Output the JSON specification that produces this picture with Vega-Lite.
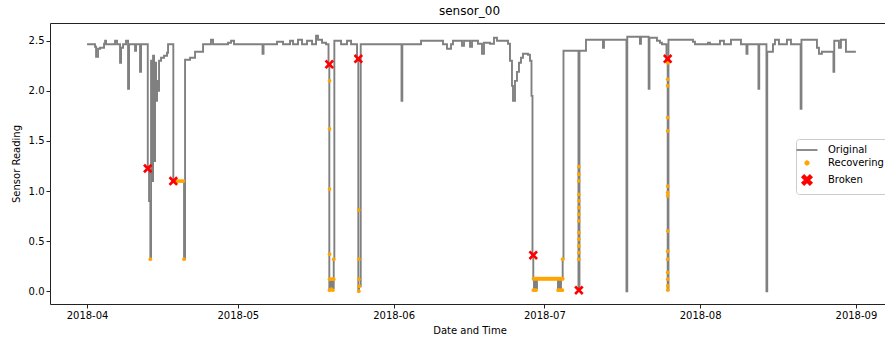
{
  "$schema": "https://vega.github.io/schema/vega-lite/v6.json",
  "width": 839,
  "height": 281,
  "autosize": {"type": "none"},
  "padding": {"left": 50, "top": 23, "right": 0, "bottom": 36},
  "title": {"text": "sensor_00", "fontSize": 12, "fontWeight": "normal", "font": "DejaVu Sans", "color": "#000", "offset": 5},
  "config": {
    "font": "DejaVu Sans",
    "view": {"stroke": "#222", "strokeWidth": 1},
    "axis": {"domain": false, "grid": false, "tickColor": "#222", "tickSize": 4, "labelFont": "DejaVu Sans", "labelFontSize": 10, "labelColor": "#000", "titleFont": "DejaVu Sans", "titleFontSize": 10, "titleFontWeight": "normal", "titleColor": "#000", "labelPadding": 2}
  },
  "datasets": {
    "line": [
      {"time": "2018-04-01T00:00", "value": 2.465},
      {"time": "2018-04-02T14:00", "value": 2.44},
      {"time": "2018-04-02T19:00", "value": 2.34},
      {"time": "2018-04-03T04:30", "value": 2.42},
      {"time": "2018-04-03T14:00", "value": 2.43},
      {"time": "2018-04-04T09:00", "value": 2.47},
      {"time": "2018-04-04T14:00", "value": 2.50},
      {"time": "2018-04-04T18:40", "value": 2.465},
      {"time": "2018-04-06T13:40", "value": 2.50},
      {"time": "2018-04-06T23:15", "value": 2.465},
      {"time": "2018-04-07T13:30", "value": 2.28},
      {"time": "2018-04-07T18:20", "value": 2.43},
      {"time": "2018-04-08T04:00", "value": 2.465},
      {"time": "2018-04-08T18:00", "value": 2.50},
      {"time": "2018-04-09T03:45", "value": 2.02},
      {"time": "2018-04-09T08:30", "value": 2.465},
      {"time": "2018-04-10T13:10", "value": 2.40},
      {"time": "2018-04-10T18:00", "value": 2.465},
      {"time": "2018-04-11T13:00", "value": 2.19},
      {"time": "2018-04-11T17:50", "value": 2.465},
      {"time": "2018-04-13T02:00", "value": 1.225},
      {"time": "2018-04-13T08:00", "value": 0.9},
      {"time": "2018-04-13T14:15", "value": 0.32},
      {"time": "2018-04-13T17:40", "value": 2.30},
      {"time": "2018-04-13T22:20", "value": 1.10},
      {"time": "2018-04-14T03:10", "value": 2.35},
      {"time": "2018-04-14T08:00", "value": 1.30},
      {"time": "2018-04-14T12:45", "value": 2.28},
      {"time": "2018-04-14T17:30", "value": 1.90},
      {"time": "2018-04-14T22:15", "value": 2.10},
      {"time": "2018-04-15T03:00", "value": 2.00},
      {"time": "2018-04-15T07:50", "value": 2.30},
      {"time": "2018-04-15T17:20", "value": 2.33},
      {"time": "2018-04-16T07:40", "value": 2.35},
      {"time": "2018-04-16T22:00", "value": 2.38},
      {"time": "2018-04-17T02:45", "value": 2.465},
      {"time": "2018-04-18T04:00", "value": 1.10},
      {"time": "2018-04-20T07:10", "value": 0.32},
      {"time": "2018-04-20T12:00", "value": 2.31},
      {"time": "2018-04-21T12:00", "value": 2.33},
      {"time": "2018-04-22T11:45", "value": 2.39},
      {"time": "2018-04-24T02:00", "value": 2.465},
      {"time": "2018-04-25T16:00", "value": 2.51},
      {"time": "2018-04-26T01:40", "value": 2.465},
      {"time": "2018-04-29T01:20", "value": 2.48},
      {"time": "2018-04-29T15:40", "value": 2.50},
      {"time": "2018-04-30T06:00", "value": 2.465},
      {"time": "2018-05-05T22:00", "value": 2.37},
      {"time": "2018-05-06T02:50", "value": 2.465},
      {"time": "2018-05-08T19:15", "value": 2.49},
      {"time": "2018-05-09T23:55", "value": 2.465},
      {"time": "2018-05-11T09:20", "value": 2.50},
      {"time": "2018-05-11T23:40", "value": 2.465},
      {"time": "2018-05-12T23:30", "value": 2.51},
      {"time": "2018-05-13T18:40", "value": 2.465},
      {"time": "2018-05-14T18:30", "value": 2.50},
      {"time": "2018-05-15T18:25", "value": 2.465},
      {"time": "2018-05-16T13:30", "value": 2.55},
      {"time": "2018-05-16T23:00", "value": 2.51},
      {"time": "2018-05-17T18:10", "value": 2.48},
      {"time": "2018-05-18T13:15", "value": 2.465},
      {"time": "2018-05-19T01:10", "value": 2.265},
      {"time": "2018-05-19T05:00", "value": 0.01},
      {"time": "2018-05-19T08:20", "value": 0.12},
      {"time": "2018-05-19T13:10", "value": 0.03},
      {"time": "2018-05-19T18:00", "value": 0.12},
      {"time": "2018-05-19T22:40", "value": 0.03},
      {"time": "2018-05-20T02:00", "value": 0.32},
      {"time": "2018-05-20T05:00", "value": 2.50},
      {"time": "2018-05-21T13:00", "value": 2.465},
      {"time": "2018-05-22T17:30", "value": 2.50},
      {"time": "2018-05-23T12:40", "value": 2.465},
      {"time": "2018-05-24T17:20", "value": 2.32},
      {"time": "2018-05-24T23:30", "value": 0.0},
      {"time": "2018-05-25T02:50", "value": 0.05},
      {"time": "2018-05-25T11:00", "value": 2.465},
      {"time": "2018-06-02T13:50", "value": 1.90},
      {"time": "2018-06-02T17:40", "value": 2.465},
      {"time": "2018-06-06T11:00", "value": 2.50},
      {"time": "2018-06-10T20:00", "value": 2.465},
      {"time": "2018-06-11T15:00", "value": 2.42},
      {"time": "2018-06-12T10:10", "value": 2.465},
      {"time": "2018-06-12T19:40", "value": 2.50},
      {"time": "2018-06-14T14:40", "value": 2.45},
      {"time": "2018-06-15T00:15", "value": 2.50},
      {"time": "2018-06-16T05:00", "value": 2.44},
      {"time": "2018-06-16T14:30", "value": 2.50},
      {"time": "2018-06-17T19:00", "value": 2.47},
      {"time": "2018-06-18T14:10", "value": 2.37},
      {"time": "2018-06-18T23:45", "value": 2.48},
      {"time": "2018-06-20T04:20", "value": 2.47},
      {"time": "2018-06-20T23:30", "value": 2.53},
      {"time": "2018-06-21T13:50", "value": 2.50},
      {"time": "2018-06-23T18:20", "value": 2.47},
      {"time": "2018-06-24T03:50", "value": 2.30},
      {"time": "2018-06-24T13:25", "value": 2.05},
      {"time": "2018-06-24T18:15", "value": 1.90},
      {"time": "2018-06-25T03:45", "value": 2.10},
      {"time": "2018-06-25T13:20", "value": 2.19},
      {"time": "2018-06-25T22:50", "value": 2.28},
      {"time": "2018-06-26T08:25", "value": 2.33},
      {"time": "2018-06-26T18:00", "value": 2.37},
      {"time": "2018-06-27T17:50", "value": 2.36},
      {"time": "2018-06-28T03:25", "value": 2.30},
      {"time": "2018-06-28T10:35", "value": 1.95},
      {"time": "2018-06-28T15:20", "value": 0.36},
      {"time": "2018-06-28T19:10", "value": 0.12},
      {"time": "2018-06-28T22:30", "value": 0.02},
      {"time": "2018-06-29T03:15", "value": 0.12},
      {"time": "2018-06-29T08:00", "value": 0.03},
      {"time": "2018-06-29T12:50", "value": 0.125},
      {"time": "2018-07-03T17:00", "value": 0.03},
      {"time": "2018-07-03T22:00", "value": 0.125},
      {"time": "2018-07-04T02:40", "value": 0.02},
      {"time": "2018-07-04T07:30", "value": 0.12},
      {"time": "2018-07-04T15:30", "value": 0.32},
      {"time": "2018-07-04T19:20", "value": 2.40},
      {"time": "2018-07-07T19:00", "value": 0.01},
      {"time": "2018-07-07T23:45", "value": 2.40},
      {"time": "2018-07-09T06:50", "value": 2.51},
      {"time": "2018-07-12T16:00", "value": 2.43},
      {"time": "2018-07-12T20:45", "value": 2.51},
      {"time": "2018-07-17T08:10", "value": 0.0},
      {"time": "2018-07-17T12:00", "value": 2.54},
      {"time": "2018-07-20T00:40", "value": 2.47},
      {"time": "2018-07-20T05:30", "value": 2.54},
      {"time": "2018-07-21T18:10", "value": 2.02},
      {"time": "2018-07-21T22:00", "value": 2.53},
      {"time": "2018-07-23T09:50", "value": 2.50},
      {"time": "2018-07-24T00:10", "value": 2.48},
      {"time": "2018-07-24T09:45", "value": 2.465},
      {"time": "2018-07-25T07:10", "value": 2.32},
      {"time": "2018-07-25T13:00", "value": 0.01},
      {"time": "2018-07-25T16:45", "value": 2.51},
      {"time": "2018-07-30T13:45", "value": 2.49},
      {"time": "2018-07-30T23:20", "value": 2.465},
      {"time": "2018-08-02T13:20", "value": 2.48},
      {"time": "2018-08-02T23:00", "value": 2.465},
      {"time": "2018-08-04T22:40", "value": 2.50},
      {"time": "2018-08-05T17:45", "value": 2.465},
      {"time": "2018-08-07T03:15", "value": 2.51},
      {"time": "2018-08-09T03:00", "value": 2.465},
      {"time": "2018-08-10T05:15", "value": 2.37},
      {"time": "2018-08-10T10:00", "value": 2.465},
      {"time": "2018-08-12T14:30", "value": 2.02},
      {"time": "2018-08-12T18:20", "value": 2.465},
      {"time": "2018-08-14T04:45", "value": 0.0},
      {"time": "2018-08-14T08:30", "value": 2.39},
      {"time": "2018-08-15T11:45", "value": 2.465},
      {"time": "2018-08-15T21:20", "value": 2.51},
      {"time": "2018-08-16T16:25", "value": 2.465},
      {"time": "2018-08-18T06:35", "value": 2.51},
      {"time": "2018-08-19T01:45", "value": 2.465},
      {"time": "2018-08-21T00:00", "value": 1.82},
      {"time": "2018-08-21T03:50", "value": 2.51},
      {"time": "2018-08-24T05:50", "value": 2.43},
      {"time": "2018-08-24T15:25", "value": 2.37},
      {"time": "2018-08-25T05:45", "value": 2.39},
      {"time": "2018-08-27T12:40", "value": 2.19},
      {"time": "2018-08-27T16:30", "value": 2.50},
      {"time": "2018-08-28T15:00", "value": 2.43},
      {"time": "2018-08-29T00:30", "value": 2.51},
      {"time": "2018-08-30T00:20", "value": 2.39},
      {"time": "2018-08-31T19:20", "value": 2.40}
    ],
    "recovering": [
      {"time": "2018-04-13T14:15", "value": 0.32},
      {"time": "2018-04-18T05:00", "value": 1.10},
      {"time": "2018-04-18T12:00", "value": 1.10},
      {"time": "2018-04-18T20:00", "value": 1.10},
      {"time": "2018-04-19T04:00", "value": 1.10},
      {"time": "2018-04-19T12:00", "value": 1.10},
      {"time": "2018-04-19T20:00", "value": 1.10},
      {"time": "2018-04-20T04:00", "value": 1.10},
      {"time": "2018-04-20T07:10", "value": 0.32},
      {"time": "2018-05-19T06:00", "value": 2.10},
      {"time": "2018-05-19T06:00", "value": 1.62},
      {"time": "2018-05-19T06:00", "value": 1.02},
      {"time": "2018-05-19T06:00", "value": 0.37},
      {"time": "2018-05-19T06:00", "value": 0.12},
      {"time": "2018-05-19T06:00", "value": 0.01},
      {"time": "2018-05-19T10:00", "value": 0.12},
      {"time": "2018-05-19T14:00", "value": 0.02},
      {"time": "2018-05-19T18:00", "value": 0.12},
      {"time": "2018-05-19T22:00", "value": 0.01},
      {"time": "2018-05-20T02:00", "value": 0.32},
      {"time": "2018-05-20T02:00", "value": 0.12},
      {"time": "2018-05-25T02:00", "value": 0.81},
      {"time": "2018-05-25T02:00", "value": 0.32},
      {"time": "2018-05-25T02:00", "value": 0.12},
      {"time": "2018-05-25T02:00", "value": 0.0},
      {"time": "2018-05-25T04:00", "value": 0.05},
      {"time": "2018-06-28T20:00", "value": 0.125},
      {"time": "2018-06-29T00:00", "value": 0.125},
      {"time": "2018-06-29T04:00", "value": 0.125},
      {"time": "2018-06-29T08:00", "value": 0.125},
      {"time": "2018-06-29T12:00", "value": 0.125},
      {"time": "2018-06-29T16:00", "value": 0.125},
      {"time": "2018-06-29T20:00", "value": 0.125},
      {"time": "2018-06-30T00:00", "value": 0.125},
      {"time": "2018-06-30T04:00", "value": 0.125},
      {"time": "2018-06-30T08:00", "value": 0.125},
      {"time": "2018-06-30T12:00", "value": 0.125},
      {"time": "2018-06-30T16:00", "value": 0.125},
      {"time": "2018-06-30T20:00", "value": 0.125},
      {"time": "2018-07-01T00:00", "value": 0.125},
      {"time": "2018-07-01T04:00", "value": 0.125},
      {"time": "2018-07-01T08:00", "value": 0.125},
      {"time": "2018-07-01T12:00", "value": 0.125},
      {"time": "2018-07-01T16:00", "value": 0.125},
      {"time": "2018-07-01T20:00", "value": 0.125},
      {"time": "2018-07-02T00:00", "value": 0.125},
      {"time": "2018-07-02T04:00", "value": 0.125},
      {"time": "2018-07-02T08:00", "value": 0.125},
      {"time": "2018-07-02T12:00", "value": 0.125},
      {"time": "2018-07-02T16:00", "value": 0.125},
      {"time": "2018-07-02T20:00", "value": 0.125},
      {"time": "2018-07-03T00:00", "value": 0.125},
      {"time": "2018-07-03T04:00", "value": 0.125},
      {"time": "2018-07-03T08:00", "value": 0.125},
      {"time": "2018-07-03T12:00", "value": 0.125},
      {"time": "2018-07-03T16:00", "value": 0.125},
      {"time": "2018-07-03T20:00", "value": 0.125},
      {"time": "2018-07-04T00:00", "value": 0.125},
      {"time": "2018-07-04T04:00", "value": 0.125},
      {"time": "2018-07-04T08:00", "value": 0.125},
      {"time": "2018-07-04T12:00", "value": 0.125},
      {"time": "2018-07-04T16:00", "value": 0.125},
      {"time": "2018-06-28T20:00", "value": 0.01},
      {"time": "2018-06-29T02:00", "value": 0.01},
      {"time": "2018-06-29T08:00", "value": 0.01},
      {"time": "2018-07-03T18:00", "value": 0.01},
      {"time": "2018-07-04T00:00", "value": 0.01},
      {"time": "2018-07-04T08:00", "value": 0.01},
      {"time": "2018-07-04T14:00", "value": 0.01},
      {"time": "2018-07-04T15:30", "value": 0.32},
      {"time": "2018-07-07T21:00", "value": 1.245},
      {"time": "2018-07-07T21:00", "value": 1.168},
      {"time": "2018-07-07T21:00", "value": 1.101},
      {"time": "2018-07-07T21:00", "value": 0.968},
      {"time": "2018-07-07T21:00", "value": 0.901},
      {"time": "2018-07-07T21:00", "value": 0.835},
      {"time": "2018-07-07T21:00", "value": 0.768},
      {"time": "2018-07-07T21:00", "value": 0.702},
      {"time": "2018-07-07T21:00", "value": 0.585},
      {"time": "2018-07-07T21:00", "value": 0.519},
      {"time": "2018-07-07T21:00", "value": 0.452},
      {"time": "2018-07-07T21:00", "value": 0.386},
      {"time": "2018-07-07T21:00", "value": 0.319},
      {"time": "2018-07-25T13:00", "value": 2.28},
      {"time": "2018-07-25T13:00", "value": 2.116},
      {"time": "2018-07-25T13:00", "value": 2.05},
      {"time": "2018-07-25T13:00", "value": 1.733},
      {"time": "2018-07-25T13:00", "value": 1.60},
      {"time": "2018-07-25T13:00", "value": 1.05},
      {"time": "2018-07-25T13:00", "value": 0.985},
      {"time": "2018-07-25T13:00", "value": 0.951},
      {"time": "2018-07-25T13:00", "value": 0.60},
      {"time": "2018-07-25T13:00", "value": 0.40},
      {"time": "2018-07-25T13:00", "value": 0.32},
      {"time": "2018-07-25T13:00", "value": 0.187},
      {"time": "2018-07-25T13:00", "value": 0.12},
      {"time": "2018-07-25T13:00", "value": 0.053},
      {"time": "2018-07-25T13:00", "value": 0.013}
    ],
    "broken": [
      {"time": "2018-04-13T02:00", "value": 1.225},
      {"time": "2018-04-18T04:00", "value": 1.10},
      {"time": "2018-05-19T05:00", "value": 2.265},
      {"time": "2018-05-24T23:30", "value": 2.32},
      {"time": "2018-06-28T19:00", "value": 0.36},
      {"time": "2018-07-07T21:00", "value": 0.01},
      {"time": "2018-07-25T13:00", "value": 2.32}
    ]
  },
  "layer": [
    {
      "data": {"name": "line"},
      "mark": {"type": "line", "interpolate": "step-after", "strokeWidth": 1.9, "clip": true},
      "encoding": {
        "x": {"field": "time", "type": "temporal",
          "scale": {"domain": [{"year": 2018, "month": 3, "date": 24, "hours": 15}, {"year": 2018, "month": 9, "date": 7, "hours": 14}], "nice": false},
          "axis": {"title": "Date and Time", "format": "%Y-%m", "titlePadding": 5, "labelFlush": false,
            "values": [{"year": 2018, "month": 4, "date": 1}, {"year": 2018, "month": 5, "date": 1}, {"year": 2018, "month": 6, "date": 1}, {"year": 2018, "month": 7, "date": 1}, {"year": 2018, "month": 8, "date": 1}, {"year": 2018, "month": 9, "date": 1}]}},
        "y": {"field": "value", "type": "quantitative",
          "scale": {"domain": [-0.1275, 2.6775], "nice": false, "zero": false},
          "axis": {"title": "Sensor Reading", "format": ".1f", "values": [0, 0.5, 1, 1.5, 2, 2.5], "titlePadding": 7, "labelFlush": false}},
        "color": {"datum": "Original", "type": "nominal",
          "scale": {"domain": ["Original", "Recovering", "Broken"], "range": ["#808080", "#FFA500", "#FF0000"]},
          "legend": {"title": null, "orient": "none", "legendX": 746, "legendY": 116,
            "fillColor": "white", "strokeColor": "#cccccc", "cornerRadius": 3, "padding": 5,
            "labelFontSize": 10, "labelFont": "DejaVu Sans", "labelColor": "#000", "labelOffset": 15,
            "symbolSize": 100, "rowPadding": 2,
            "encode": {"symbols": {"update": {
              "shape": {"signal": "datum.value === 'Original' ? 'M-2.1,0L2.1,0' : datum.value === 'Recovering' ? 'circle' : 'M-1,-0.6L-0.6,-1L0,-0.4L0.6,-1L1,-0.6L0.4,0L1,0.6L0.6,1L0,0.4L-0.6,1L-1,0.6L-0.4,0Z'"},
              "size": {"signal": "datum.value === 'Original' ? 100 : datum.value === 'Recovering' ? 12 : 90"},
              "fill": {"signal": "datum.value === 'Original' ? 'transparent' : datum.value === 'Recovering' ? '#FFA500' : '#FF0000'"},
              "stroke": {"signal": "datum.value === 'Original' ? '#808080' : 'transparent'"},
              "strokeWidth": {"value": 1.8},
              "opacity": {"value": 1}
            }}}}
        }
      }
    },
    {
      "data": {"name": "recovering"},
      "mark": {"type": "point", "filled": true, "size": 14, "opacity": 1, "shape": "circle"},
      "encoding": {
        "x": {"field": "time", "type": "temporal"},
        "y": {"field": "value", "type": "quantitative"},
        "color": {"datum": "Recovering", "type": "nominal"}
      }
    },
    {
      "data": {"name": "broken"},
      "mark": {"type": "point", "filled": true, "size": 90, "opacity": 1, "shape": "M-1,-0.6L-0.6,-1L0,-0.4L0.6,-1L1,-0.6L0.4,0L1,0.6L0.6,1L0,0.4L-0.6,1L-1,0.6L-0.4,0Z"},
      "encoding": {
        "x": {"field": "time", "type": "temporal"},
        "y": {"field": "value", "type": "quantitative"},
        "color": {"datum": "Broken", "type": "nominal"}
      }
    }
  ]
}
